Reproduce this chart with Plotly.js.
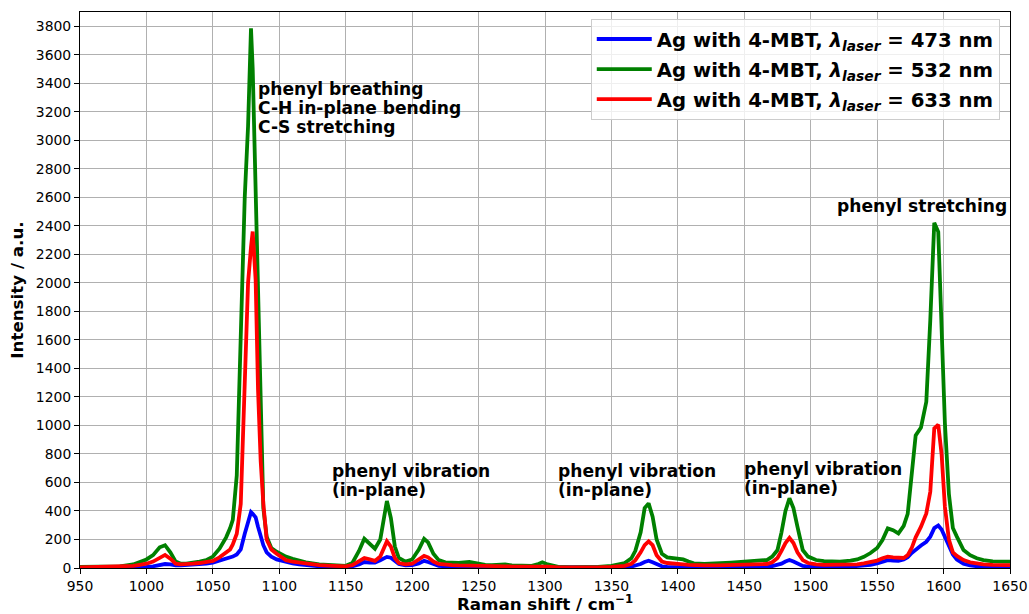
<!DOCTYPE html>
<html>
<head>
<meta charset="utf-8">
<script src="https://cdn.plot.ly/plotly-3.0.1.min.js"></script>
<style>
html,body{margin:0;padding:0;background:#fff;}
#chart{width:1029px;height:614px;}
</style>
</head>
<body>
<div id="chart"></div>
<script>
// Raman shift (cm^-1)
const ramanShift = [950, 960, 970, 980, 990, 995, 1000, 1005, 1010, 1014, 1018, 1022, 1026, 1030, 1035, 1040, 1045, 1050, 1055, 1060,
  1063, 1065, 1068, 1071, 1074, 1076.5, 1078.7, 1080, 1082.2, 1084, 1086, 1088, 1090.5, 1094, 1098, 1105, 1110, 1115, 1120, 1130,
  1140, 1150, 1155, 1160, 1164, 1168, 1172, 1176, 1181, 1184, 1187, 1190, 1195, 1200, 1205, 1209, 1212, 1216, 1220, 1225,
  1230, 1235, 1243, 1250, 1255, 1260, 1265, 1270, 1275, 1280, 1290, 1295, 1298, 1302, 1310, 1320, 1330, 1340, 1350, 1355,
  1360, 1365, 1368, 1372, 1375, 1378, 1381, 1384, 1388, 1392, 1396, 1400, 1404, 1408, 1412, 1420, 1430, 1440, 1450, 1460,
  1467, 1471, 1475, 1478, 1481, 1484, 1487, 1490, 1494, 1498, 1504, 1510, 1515, 1522, 1530, 1535, 1540, 1545, 1550, 1554,
  1558, 1562, 1566, 1570, 1573, 1576, 1579, 1583, 1587, 1590, 1593, 1596, 1598.5, 1601, 1604, 1607, 1610, 1615, 1620, 1625,
  1630, 1637, 1645, 1650];

// Ag with 4-MBT, 473 nm
const int473 = [3, 3, 4, 4, 5, 6, 8, 12, 20, 28, 25, 18, 18, 20, 22, 26, 30, 38, 50, 65,
  75, 80, 95, 130, 240, 320, 392, 380, 355, 290, 220, 160, 110, 80, 60, 40, 32, 25, 20, 12,
  8, 8, 12, 25, 42, 38, 38, 55, 78, 72, 50, 28, 18, 20, 32, 50, 42, 25, 15, 12,
  10, 10, 10, 8, 6, 6, 6, 6, 5, 5, 4, 5, 5, 4, 3, 3, 3, 3, 4, 5,
  6, 10, 15, 28, 42, 51, 40, 25, 12, 8, 6, 5, 5, 5, 5, 5, 5, 6, 6, 8,
  10, 14, 20, 30, 45, 56, 45, 30, 15, 10, 8, 7, 7, 8, 10, 12, 16, 22, 32, 45,
  55, 52, 50, 60, 75, 105, 130, 158, 184, 220, 280, 298, 270, 220, 150, 95, 60, 30, 18, 10,
  7, 5, 5, 5];

// Ag with 4-MBT, 532 nm
const int532 = [8, 10, 12, 12, 25, 40, 60, 90, 145, 160, 110, 45, 30, 30, 35, 45, 55, 80, 135, 215,
  280, 337, 650, 1600, 2600, 3100, 3785, 3500, 2600, 1900, 1050, 420, 220, 140, 114, 80, 65, 50, 40, 25,
  18, 15, 35, 120, 205, 170, 135, 200, 470, 350, 150, 70, 45, 60, 130, 205, 180, 100, 55, 40,
  35, 35, 42, 30, 22, 20, 25, 25, 18, 15, 15, 28, 40, 25, 8, 5, 6, 8, 15, 22,
  35, 68, 120, 250, 420, 453, 360, 200, 100, 75, 68, 65, 60, 45, 33, 28, 30, 38, 45, 48,
  56, 80, 126, 250, 400, 489, 420, 290, 126, 80, 56, 48, 45, 45, 52, 60, 78, 105, 140, 196,
  278, 265, 243, 295, 380, 690, 930, 986, 1166, 1739, 2421, 2358, 1716, 1015, 520, 280, 220, 126, 90, 68,
  55, 46, 45, 45];

// Ag with 4-MBT, 633 nm
const int633 = [5, 6, 8, 8, 15, 22, 30, 45, 70, 92, 65, 30, 25, 25, 30, 35, 42, 50, 75, 105,
  130, 165, 240, 450, 1300, 2000, 2250, 2360, 2020, 1250, 750, 450, 200, 130, 100, 55, 45, 38, 32, 20,
  15, 12, 20, 45, 70, 60, 50, 80, 187, 150, 70, 35, 25, 30, 60, 85, 75, 45, 28, 22,
  20, 18, 18, 15, 12, 12, 12, 12, 10, 10, 8, 10, 12, 10, 5, 4, 4, 5, 8, 10,
  15, 30, 55, 110, 160, 187, 160, 90, 45, 35, 30, 28, 25, 22, 20, 18, 18, 20, 22, 24,
  28, 40, 70, 120, 175, 212, 175, 110, 55, 35, 25, 22, 22, 22, 24, 26, 32, 40, 52, 68,
  80, 75, 70, 70, 90, 140, 215, 290, 383, 535, 980, 1005, 800, 430, 200, 110, 85, 56, 40, 30,
  25, 22, 20, 20];

const seriesNames = [
  'Ag with 4-MBT, <i>λ</i><sub><i>laser</i></sub> = 473 nm',
  'Ag with 4-MBT, <i>λ</i><sub><i>laser</i></sub> = 532 nm',
  'Ag with 4-MBT, <i>λ</i><sub><i>laser</i></sub> = 633 nm'
];
const seriesColors = ['#0000ff', '#008000', '#ff0000'];
const seriesValues = [int473, int532, int633];

// peak assignment labels: each entry holds its text lines and anchor (left, top)
const peakLabels = [
  {lines: ['phenyl breathing', 'C-H in-plane bending', 'C-S stretching'], x: 1082.3, y: 3445},
  {lines: ['phenyl vibration', '(in-plane)'], x: 1138.3, y: 765},
  {lines: ['phenyl vibration', '(in-plane)'], x: 1308.3, y: 765},
  {lines: ['phenyl vibration', '(in-plane)'], x: 1448.3, y: 780},
  {lines: ['phenyl stretching'], x: 1518.3, y: 2625}
];

const FONT = 'DejaVu Sans, sans-serif';

const traces = seriesValues.map((vals, i) => ({
  x: ramanShift,
  y: vals,
  type: 'scatter',
  mode: 'lines',
  name: seriesNames[i],
  legendgroup: 'g' + i,
  line: {color: seriesColors[i], width: 3.8},
  hoverinfo: 'x+y'
}));

const annotations = [];
peakLabels.forEach(p => {
  p.lines.forEach((ln, k) => {
    annotations.push({
      text: ln, x: p.x, y: p.y, xref: 'x', yref: 'y',
      xanchor: 'left', yanchor: 'top', align: 'left', showarrow: false,
      yshift: -19.3 * k,
      font: {family: FONT, size: 17.1, color: '#000', weight: 'bold'}
    });
  });
});

const layout = {
  width: 1029, height: 614,
  margin: {l: 80, r: 19, t: 12, b: 46},
  paper_bgcolor: '#fff', plot_bgcolor: '#fff',
  font: {family: FONT, color: '#000'},
  showlegend: true,
  legend: {
    x: 0.989, y: 0.988, xanchor: 'right', yanchor: 'top',
    bgcolor: 'rgba(255,255,255,0.8)', bordercolor: '#cccccc', borderwidth: 1,
    font: {family: FONT, size: 19.7, color: '#000', weight: 'bold'},
    tracegroupgap: 1.5, traceorder: 'grouped', itemwidth: 55
  },
  xaxis: {
    range: [950, 1650], dtick: 50, tick0: 950,
    showgrid: true, gridcolor: '#b0b0b0', gridwidth: 1,
    zeroline: false, showline: true, mirror: true, linecolor: '#000', linewidth: 1,
    ticks: 'outside', ticklen: 5, tickcolor: '#000',
    tickfont: {family: FONT, size: 13.9, color: '#000'},
    title: {text: 'Raman shift / cm<sup>−1</sup>', standoff: 8,
      font: {family: FONT, size: 16.7, color: '#000', weight: 'bold'}}
  },
  yaxis: {
    range: [0, 3900], dtick: 200, tick0: 0,
    showgrid: true, gridcolor: '#b0b0b0', gridwidth: 1,
    zeroline: false, showline: true, mirror: true, linecolor: '#000', linewidth: 1,
    ticks: 'outside', ticklen: 5, tickcolor: '#000',
    tickfont: {family: FONT, size: 13.9, color: '#000'},
    title: {text: 'Intensity / a.u.', standoff: 8,
      font: {family: FONT, size: 16.7, color: '#000', weight: 'bold'}}
  },
  annotations: annotations
};

Plotly.newPlot('chart', traces, layout, {displayModeBar: false, staticPlot: true});
</script>
</body>
</html>
